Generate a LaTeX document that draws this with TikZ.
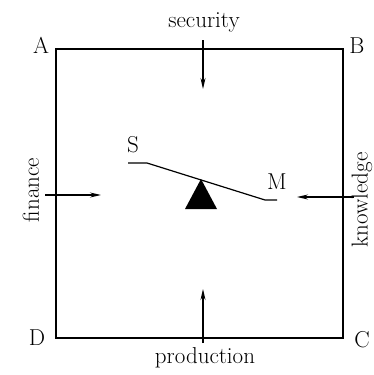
\documentclass[tikz,border=0pt]{standalone}
\usetikzlibrary{arrows.meta}
\begin{document}
\begin{tikzpicture}[x=1pt,y=-1pt,
  lbl/.style={inner sep=0pt,font=\fontsize{23}{27}\selectfont},
  edge/.style={line width=1.3pt},
  force/.style={line width=1.2pt,-{Stealth[length=11pt,width=5pt]}}]
\path[use as bounding box] (0,0) rectangle (373,375);
% square
\coordinate (A) at (56,49);
\coordinate (B) at (343,49);
\coordinate (C) at (343,338);
\coordinate (D) at (56,338);
\draw[edge] (A) -- (B) -- (C) -- (D) -- cycle;
\node[lbl] (la) at (41,45) {A};
\node[lbl] (lb) at (357,46) {B};
\node[lbl] (lc) at (362,340) {C};
\node[lbl] (ld) at (37,338) {D};
% forces
\node[lbl] (sec) at (204,22) {security};
\node[lbl] (prod) at (205,358) {production};
\node[lbl,rotate=90] (fin) at (31,190) {finance};
\node[lbl,rotate=90] (know) at (362,200) {knowledge};
\coordinate (s1) at (203,40);  \coordinate (s2) at (203,89);
\coordinate (p1) at (203,343); \coordinate (p2) at (203,289);
\coordinate (f1) at (45,195);  \coordinate (f2) at (101,195);
\coordinate (k1) at (354,197); \coordinate (k2) at (297,197);
\draw[force] (s1) -- (s2);
\draw[force] (p1) -- (p2);
\draw[force] (f1) -- (f2);
\draw[force] (k1) -- (k2);
% seesaw
\coordinate (b1) at (128,163);
\coordinate (b2) at (147,163);
\coordinate (b3) at (265,200);
\coordinate (b4) at (277,200);
\draw[line width=1.2pt,line join=round] (b1) -- (b2) -- (b3) -- (b4);
\coordinate (t1) at (201,179);
\coordinate (t2) at (185,209);
\coordinate (t3) at (217,209);
\fill (t1) -- (t2) -- (t3) -- cycle;
\node[lbl] (S) at (133,145) {S};
\node[lbl] (M) at (277,182) {M};
\end{tikzpicture}
\end{document}
